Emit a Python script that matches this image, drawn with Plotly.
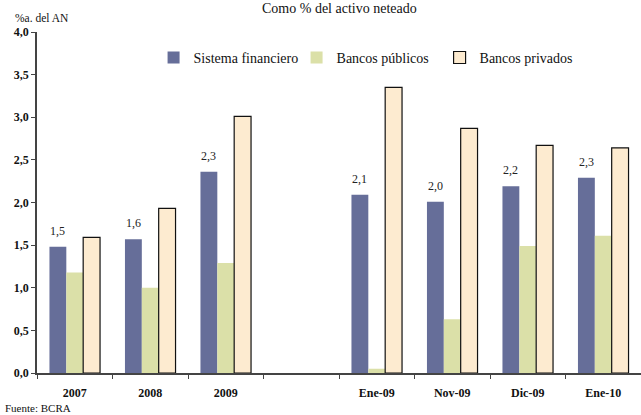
import plotly.graph_objects as go

categories = ["2007", "2008", "2009", " ", "Ene-09", "Nov-09", "Dic-09", "Ene-10"]
sistema = [1.48, 1.57, 2.36, None, 2.09, 2.01, 2.19, 2.29]
publicos = [1.18, 1.0, 1.29, None, 0.05, 0.63, 1.49, 1.61]
privados = [1.59, 1.93, 3.01, None, 3.35, 2.87, 2.67, 2.64]
labels = ["1,5", "1,6", "2,3", "", "2,1", "2,0", "2,2", "2,3"]

serif = "Liberation Serif"

fig = go.Figure()
fig.add_trace(go.Bar(x=categories, y=sistema, name="Sistema financiero",
                     marker=dict(color="#666e99", line=dict(width=0))))
fig.add_trace(go.Bar(x=categories, y=publicos, name="Bancos públicos",
                     marker=dict(color="#dbe0a8", line=dict(width=0))))
fig.add_trace(go.Bar(x=categories, y=privados, name="Bancos privados",
                     marker=dict(color="#fdebd0", line=dict(color="#111111", width=1.2))))

for i, (v, t) in enumerate(zip(sistema, labels)):
    if v is None:
        continue
    fig.add_annotation(x=i, y=v, text=t, showarrow=False, xshift=-17, yshift=16,
                       font=dict(family=serif, size=12, color="#222"))

fig.add_annotation(x=0.5, y=1.0, xref="paper", yref="paper", yanchor="bottom", yshift=14,
                   text="Como % del activo neteado", showarrow=False,
                   font=dict(family=serif, size=14, color="#111"))
fig.add_annotation(x=-0.04, y=1.0, xref="paper", yref="paper", xanchor="left", yanchor="bottom",
                   yshift=6, text="%a. del AN", showarrow=False,
                   font=dict(family=serif, size=11.5, color="#111"))
fig.add_annotation(x=-0.056, y=0, xref="paper", yref="paper", xanchor="left", yanchor="top",
                   yshift=-27, text="Fuente: BCRA", showarrow=False,
                   font=dict(family=serif, size=11, color="#111"))

fig.update_layout(
    width=641, height=415,
    margin=dict(l=37, r=0, t=32, b=42),
    paper_bgcolor="white", plot_bgcolor="white",
    barmode="group", bargap=0.33, bargroupgap=0,
    separators=",.",
    font=dict(family=serif, size=11, color="#111"),
    legend=dict(orientation="h", x=0.193, y=0.924, xanchor="left", yanchor="middle",
                font=dict(family=serif, size=14), bgcolor="rgba(0,0,0,0)",
                entrywidth=98, itemwidth=30, tracegroupgap=0),
    showlegend=True,
)
fig.update_xaxes(type="category", categoryorder="array", categoryarray=categories,
                 range=[-0.5, len(categories) - 0.5],
                 showline=True, linecolor="#444", linewidth=1.5,
                 ticks="outside", tickson="boundaries", ticklen=4, tickcolor="#444",
                 ticklabelstandoff=8,
                 tickfont=dict(family=serif, size=12, color="#111", weight="bold"),
                 showgrid=False)
fig.update_yaxes(range=[0, 4], dtick=0.5, tickformat=".1f",
                 showline=True, linecolor="#444", linewidth=1.5,
                 ticks="outside", ticklen=4, tickcolor="#444",
                 tickfont=dict(family=serif, size=12, color="#111", weight="bold"),
                 showgrid=False, zeroline=False)

fig.write_html("out.html")
